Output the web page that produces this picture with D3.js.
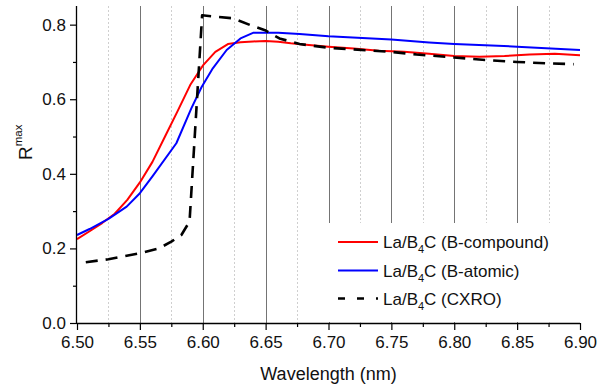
<!DOCTYPE html>
<html>
<head>
<meta charset="utf-8">
<script src="https://cdn.jsdelivr.net/npm/d3@7"></script>
<style>
  body { margin: 0; background: #fff; }
  svg { font-family: "Liberation Sans", Arial, sans-serif; }
</style>
</head>
<body>
<div id="container"></div>
<script>
// values
let wlCompound = [6.50, 6.51, 6.52, 6.53, 6.54, 6.55, 6.56, 6.57, 6.58, 6.59, 6.60, 6.61, 6.62, 6.63, 6.64, 6.65, 6.66, 6.67, 6.68, 6.70, 6.72, 6.74, 6.76, 6.78, 6.80, 6.82, 6.84, 6.86, 6.88, 6.90];
let rCompound = [0.225, 0.246, 0.268, 0.293, 0.330, 0.377, 0.432, 0.500, 0.568, 0.638, 0.690, 0.727, 0.748, 0.753, 0.755, 0.756, 0.754, 0.750, 0.747, 0.741, 0.736, 0.730, 0.727, 0.722, 0.716, 0.714, 0.716, 0.720, 0.722, 0.718];

let wlAtomic = [6.50, 6.51, 6.525, 6.5395, 6.55, 6.56, 6.579, 6.591, 6.599, 6.608, 6.619, 6.63, 6.64, 6.66, 6.677, 6.70, 6.75, 6.78, 6.80, 6.85, 6.90];
let rAtomic = [0.236, 0.252, 0.279, 0.312, 0.348, 0.393, 0.482, 0.576, 0.632, 0.683, 0.732, 0.763, 0.778, 0.778, 0.775, 0.769, 0.760, 0.752, 0.748, 0.741, 0.732];

let wlCxro = [6.507, 6.525, 6.55, 6.565, 6.575, 6.583, 6.5895, 6.5995, 6.624, 6.6376, 6.6495, 6.661, 6.677, 6.70, 6.75, 6.77, 6.80, 6.826, 6.85, 6.875, 6.895];
let rCxro = [0.163, 0.171, 0.187, 0.200, 0.218, 0.236, 0.272, 0.825, 0.817, 0.799, 0.785, 0.763, 0.748, 0.738, 0.727, 0.720, 0.712, 0.705, 0.700, 0.696, 0.694];

let xTicks = [6.50, 6.55, 6.60, 6.65, 6.70, 6.75, 6.80, 6.85, 6.90];
let xMinor = [6.525, 6.575, 6.625, 6.675, 6.725, 6.775, 6.825, 6.875];
let yTicks = [0.0, 0.2, 0.4, 0.6, 0.8];
let yMinor = [0.1, 0.3, 0.5, 0.7];

let seriesNames = ["B-compound", "B-atomic", "CXRO"];
let seriesColors = ["#ff0000", "#0000ff", "#000000"];

let w = 598;
let h = 385;
let padLeft = 77, padRight = 580, padTop = 6, padBottom = 323;

let viz = d3.select("#container")
  .append("svg")
    .attr("width", w)
    .attr("height", h);

let xScale = d3.scaleLinear().domain([6.5, 6.9]).range([padLeft, padRight]);
let yScale = d3.scaleLinear().domain([0, 0.85]).range([padBottom, padTop]);

// vertical grid lines
let gridGroup = viz.append("g");
gridGroup.selectAll(".minor").data(xMinor).enter()
  .append("line")
    .attr("x1", d => Math.round(xScale(d)) + 0.5)
    .attr("x2", d => Math.round(xScale(d)) + 0.5)
    .attr("y1", padTop)
    .attr("y2", padBottom)
    .attr("stroke", "#cfcfcf")
    .attr("stroke-dasharray", "2,2");
gridGroup.selectAll(".major").data(xTicks.slice(1, -1)).enter()
  .append("line")
    .attr("x1", d => Math.round(xScale(d)) + 0.5)
    .attr("x2", d => Math.round(xScale(d)) + 0.5)
    .attr("y1", padTop)
    .attr("y2", padBottom)
    .attr("stroke", "#747474");

// legend background hides the grid
viz.append("rect")
  .attr("x", 300).attr("y", 223)
  .attr("width", 282).attr("height", 99)
  .attr("fill", "#fff");

// curves
let line = d3.line()
  .x(d => xScale(d[0]))
  .y(d => yScale(d[1]));

let seriesData = [
  d3.zip(wlCompound, rCompound),
  d3.zip(wlAtomic, rAtomic),
  d3.zip(wlCxro, rCxro)
];

viz.append("g").selectAll("path").data(seriesData).enter()
  .append("path")
    .attr("d", line)
    .attr("fill", "none")
    .attr("stroke", (d, i) => seriesColors[i])
    .attr("stroke-width", (d, i) => i == 2 ? 2.6 : 2)
    .attr("stroke-dasharray", (d, i) => i == 2 ? "12,8" : null)
    .attr("stroke-linejoin", "round");

// axes
let xAxis = d3.axisBottom(xScale).tickValues(xTicks).tickFormat(d3.format(".2f")).tickSize(7).tickPadding(6);
let xAxisGroup = viz.append("g").attr("transform", "translate(0," + padBottom + ")").call(xAxis);
let xMinorGroup = viz.append("g").attr("transform", "translate(0," + padBottom + ")")
  .call(d3.axisBottom(xScale).tickValues(xMinor).tickFormat("").tickSize(4));

let yAxis = d3.axisLeft(yScale).tickValues(yTicks).tickFormat(d3.format(".1f")).tickSize(7).tickPadding(4);
let yAxisGroup = viz.append("g").attr("transform", "translate(" + padLeft + ",0)").call(yAxis);
let yMinorGroup = viz.append("g").attr("transform", "translate(" + padLeft + ",0)")
  .call(d3.axisLeft(yScale).tickValues(yMinor).tickFormat("").tickSize(4));

[xAxisGroup, xMinorGroup, yAxisGroup, yMinorGroup].forEach(g => {
  g.selectAll("path").attr("stroke", "#000").attr("stroke-width", 1.3);
  g.selectAll("line").attr("stroke", "#000").attr("stroke-width", 1.2);
  g.selectAll("text").attr("font-size", 17).attr("fill", "#111");
  g.attr("font-family", null);
});
// only a left and a bottom axis, no end caps
xAxisGroup.select("path").attr("d", "M" + padLeft + ",0.5H" + padRight);
yAxisGroup.select("path").attr("d", "M-0.5," + padBottom + "V" + padTop);
xMinorGroup.select("path").remove();
yMinorGroup.select("path").remove();

// axis titles
viz.append("text")
  .attr("x", (padLeft + padRight) / 2)
  .attr("y", 380)
  .attr("text-anchor", "middle")
  .attr("font-size", 18)
  .attr("fill", "#111")
  .text("Wavelength (nm)");

let yTitle = viz.append("text")
  .attr("transform", "translate(31.5,160) rotate(-90)")
  .attr("font-size", 19)
  .attr("fill", "#111");
yTitle.append("tspan").text("R");
yTitle.append("tspan").attr("font-size", 11.5).attr("dy", -10).text("max");

// legend
let legendRows = [242, 270.5, 298.5];
let legend = viz.append("g");
seriesNames.forEach((name, i) => {
  legend.append("line")
    .attr("x1", 338).attr("x2", 378)
    .attr("y1", legendRows[i]).attr("y2", legendRows[i])
    .attr("stroke", seriesColors[i])
    .attr("stroke-width", i == 2 ? 2.6 : 2)
    .attr("stroke-dasharray", i == 2 ? "7,12" : null);
  let t = legend.append("text")
    .attr("x", 383)
    .attr("y", legendRows[i] + 6)
    .attr("font-size", 17)
    .attr("fill", "#111");
  t.append("tspan").text("La/B");
  t.append("tspan").attr("font-size", 11).attr("dy", 5).text("4");
  t.append("tspan").attr("dy", -5).text("C (" + name + ")");
});
</script>
</body>
</html>
